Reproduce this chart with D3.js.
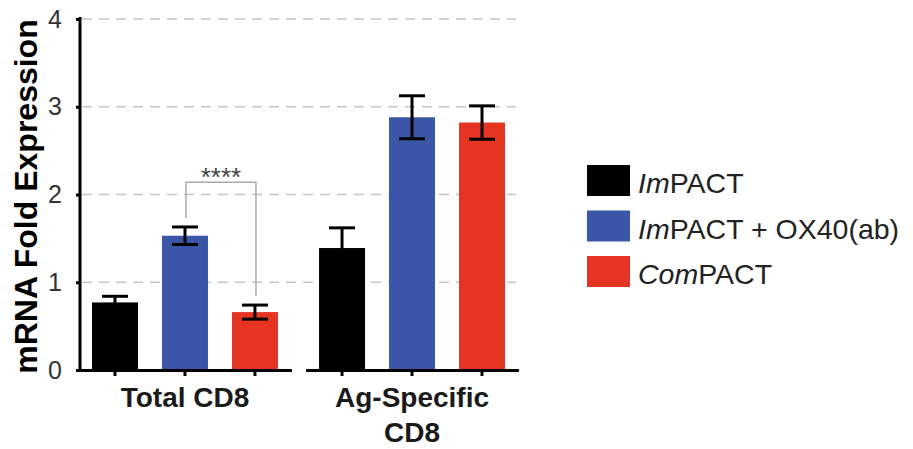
<!DOCTYPE html>
<html>
<head>
<meta charset="utf-8">
<script src="https://cdn.jsdelivr.net/npm/d3@7"></script>
<style>
  body { margin: 0; background: #fff; }
  svg { display: block; font-family: Arial, "Liberation Sans", sans-serif; }
</style>
</head>
<body>
<div id="chart"></div>
<script>
// values
var groups = ['Total CD8', 'Ag-Specific CD8'];
var seriesNames = ['ImPACT', 'ImPACT + OX40(ab)', 'ComPACT'];
var impactMean = [0.77, 1.39];
var impactSem = [0.07, 0.23];
var impactOxMean = [1.53, 2.88];
var impactOxSem = [0.10, 0.245];
var compactMean = [0.66, 2.82];
var compactSem = [0.08, 0.19];
var yTicks = [0, 1, 2, 3, 4];
var colors = ['#000000', '#3b56a6', '#e63423'];

var width = 913, height = 449;

var svg = d3.select('#chart').append('svg')
  .attr('width', width)
  .attr('height', height);

var y = d3.scaleLinear().domain([0, 4]).range([370, 19]);

// outer band = one axis segment per group, inner band = bar slot
var x0 = d3.scaleBand().domain(groups).range([78.5, 518.5]).paddingInner(0.062);
var x1 = d3.scaleBand().domain(seriesNames).range([0, x0.bandwidth()])
  .paddingInner(0.343).paddingOuter(0.193);

var means = [impactMean, impactOxMean, compactMean];
var sems = [impactSem, impactOxSem, compactSem];

var data = [];
groups.forEach(function (g, gi) {
  seriesNames.forEach(function (s, si) {
    data.push({group: g, series: s, mean: means[si][gi], sem: sems[si][gi], color: colors[si]});
  });
});

// dashed gridlines
svg.append('g')
  .selectAll('line')
  .data(yTicks.slice(1))
  .enter().append('line')
  .attr('x1', 82)
  .attr('x2', 516)
  .attr('y1', function (d) { return y(d); })
  .attr('y2', function (d) { return y(d); })
  .attr('stroke', '#c4c4c4')
  .attr('stroke-width', 1.5)
  .attr('stroke-dasharray', '10,7');

// bars
svg.append('g')
  .selectAll('rect')
  .data(data)
  .enter().append('rect')
  .attr('x', function (d) { return x0(d.group) + x1(d.series); })
  .attr('y', function (d) { return y(d.mean); })
  .attr('width', x1.bandwidth())
  .attr('height', function (d) { return y(0) - y(d.mean); })
  .attr('fill', function (d) { return d.color; });

// error bars
var capW = 13;
var eb = svg.append('g')
  .attr('stroke', '#000')
  .attr('stroke-width', 3)
  .selectAll('g')
  .data(data)
  .enter().append('g')
  .attr('transform', function (d) {
    return 'translate(' + (x0(d.group) + x1(d.series) + x1.bandwidth() / 2) + ',0)';
  });
eb.append('line')
  .attr('x1', 0).attr('x2', 0)
  .attr('y1', function (d) { return y(d.mean - d.sem); })
  .attr('y2', function (d) { return y(d.mean + d.sem); });
eb.append('line')
  .attr('x1', -capW).attr('x2', capW)
  .attr('y1', function (d) { return y(d.mean + d.sem); })
  .attr('y2', function (d) { return y(d.mean + d.sem); });
eb.append('line')
  .attr('x1', -capW).attr('x2', capW)
  .attr('y1', function (d) { return y(d.mean - d.sem); })
  .attr('y2', function (d) { return y(d.mean - d.sem); });

// y axis
var yAxis = svg.append('g')
  .attr('transform', 'translate(80,0)')
  .call(d3.axisLeft(y).tickValues(yTicks).tickFormat(d3.format('d'))
    .tickSize(4).tickPadding(14).tickSizeOuter(0));
yAxis.select('.domain')
  .attr('stroke-width', 3)
  .attr('d', 'M0,' + (y(4) - 2) + 'V' + (y(0) + 1.5));
yAxis.selectAll('.tick line').attr('stroke-width', 3);
yAxis.selectAll('.tick text')
  .attr('font-size', 25)
  .attr('fill', '#333')
  .attr('font-family', 'Arial, "Liberation Sans", sans-serif');

// x axis, broken into one segment per group
groups.forEach(function (g) {
  var ax = svg.append('g')
    .attr('transform', 'translate(0,' + y(0) + ')')
    .call(d3.axisBottom(d3.scaleBand().domain(seriesNames)
      .range([x0(g), x0(g) + x0.bandwidth()]).paddingInner(0.343).paddingOuter(0.193))
      .tickSize(6).tickSizeOuter(0).tickFormat(''));
  ax.select('.domain').attr('stroke-width', 3);
  ax.selectAll('.tick line').attr('stroke-width', 3);
});

// group labels
var groupLines = {'Total CD8': ['Total CD8'], 'Ag-Specific CD8': ['Ag-Specific', 'CD8']};
groups.forEach(function (g) {
  var t = svg.append('text')
    .attr('text-anchor', 'middle')
    .attr('font-size', 28)
    .attr('font-weight', 'bold')
    .attr('fill', '#1a1a1a')
    .attr('y', 407);
  groupLines[g].forEach(function (line, i) {
    t.append('tspan')
      .attr('x', x0(g) + x0.bandwidth() / 2)
      .attr('dy', i === 0 ? 0 : 35)
      .text(line);
  });
});

// y title
svg.append('text')
  .attr('transform', 'translate(37,' + ((y(0) + y(4)) / 2 + 2) + ') rotate(-90)')
  .attr('text-anchor', 'middle')
  .attr('font-size', 32)
  .attr('font-weight', 'bold')
  .attr('fill', '#000')
  .text('mRNA Fold Expression');

// significance bracket between ImPACT+OX40 and ComPACT in Total CD8
var bx1 = x0(groups[0]) + x1(seriesNames[1]) + x1.bandwidth() / 2 + 1;
var bx2 = x0(groups[0]) + x1(seriesNames[2]) + x1.bandwidth() / 2 + 1;
svg.append('path')
  .attr('d', 'M' + bx1 + ',' + y(1.73) + 'V' + y(2.14) + 'H' + bx2 + 'V' + y(0.84))
  .attr('fill', 'none')
  .attr('stroke', '#aaa')
  .attr('stroke-width', 1.5);
svg.append('text')
  .attr('x', (bx1 + bx2) / 2)
  .attr('y', 186)
  .attr('text-anchor', 'middle')
  .attr('font-size', 26)
  .attr('fill', '#444')
  .text('****');

// legend
var legend = svg.append('g')
  .selectAll('g')
  .data(seriesNames)
  .enter().append('g')
  .attr('transform', function (d, i) { return 'translate(587,' + (165 + i * 45.5) + ')'; });

legend.append('rect')
  .attr('width', 43)
  .attr('height', 31)
  .attr('fill', function (d, i) { return colors[i]; });

var legendParts = [['Im', 'PACT'], ['Im', 'PACT + OX40(ab)'], ['Com', 'PACT']];
legend.each(function (d, i) {
  var t = d3.select(this).append('text')
    .attr('x', 51)
    .attr('y', 28)
    .attr('font-size', 28.5)
    .attr('fill', '#222');
  t.append('tspan').attr('font-style', 'italic').text(legendParts[i][0]);
  t.append('tspan').text(legendParts[i][1]);
});
</script>
</body>
</html>
